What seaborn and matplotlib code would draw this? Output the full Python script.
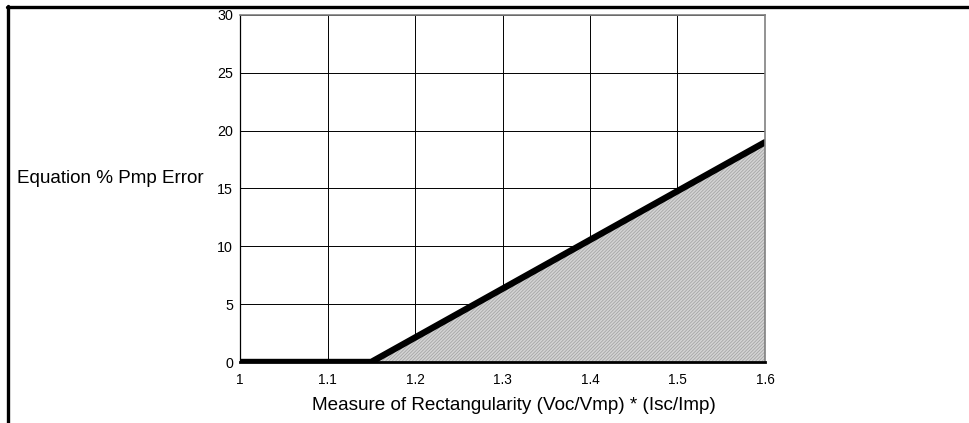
import matplotlib
matplotlib.use("Agg")
import matplotlib.pyplot as plt
from matplotlib.lines import Line2D
import numpy as np
import pandas as pd
import seaborn as sns

# Error curve: zero up to the kink, then rising linearly
rectangularity = [1.0, 1.15, 1.6]
pmp_error = [0.0, 0.0, 19.0]

x_ticks = [1.0, 1.1, 1.2, 1.3, 1.4, 1.5, 1.6]
x_tick_labels = ["1", "1.1", "1.2", "1.3", "1.4", "1.5", "1.6"]
y_ticks = [0, 5, 10, 15, 20, 25, 30]

sns.set_theme(style="white")
plt.rcParams["font.family"] = ["Liberation Sans", "DejaVu Sans"]
plt.rcParams["hatch.linewidth"] = 0.6

fig = plt.figure(figsize=(9.69, 4.23), dpi=100)
ax = fig.add_axes([240 / 969, 1 - 362 / 423, 525 / 969, 347 / 423])

df = pd.DataFrame({"x": rectangularity, "y": pmp_error})

# Shaded region beneath the curve
ax.fill_between(df["x"], 0, df["y"], facecolor="#d4d4d4", edgecolor="#a6a6a6",
                hatch="//////////", linewidth=0, zorder=2)

sns.lineplot(data=df, x="x", y="y", ax=ax, color="black", linewidth=4.6,
             zorder=4, clip_on=True)

ax.set_xlim(1.0, 1.6)
ax.set_ylim(0, 30)
ax.set_xticks(x_ticks)
ax.set_xticklabels(x_tick_labels)
ax.set_yticks(y_ticks)
ax.tick_params(axis="both", length=0, colors="black")
ax.tick_params(axis="x", pad=8, labelsize=9.8)
ax.tick_params(axis="y", pad=5, labelsize=10.3)

ax.grid(True, color="black", linewidth=0.7, zorder=1)
ax.set_axisbelow(True)

for side in ["top", "right"]:
    ax.spines[side].set_color("#808080")
    ax.spines[side].set_linewidth(1.2)
ax.spines["left"].set_color("black")
ax.spines["left"].set_linewidth(0.9)
ax.spines["bottom"].set_color("black")
ax.spines["bottom"].set_linewidth(2.0)
for s in ax.spines.values():
    s.set_zorder(5)

ax.set_xlabel("Measure of Rectangularity (Voc/Vmp) * (Isc/Imp)", fontsize=13.6,
              color="black", va="center")
ax.xaxis.set_label_coords(0.522, -0.124)
ax.set_ylabel("Equation % Pmp Error", fontsize=13.6, rotation=0, ha="left",
              va="center", color="black")
ax.yaxis.set_label_coords(-0.425, 0.53)

# Outer frame lines along the top and left edges
fig.add_artist(Line2D([7 / 969, 1.0], [1 - 7.5 / 423, 1 - 7.5 / 423],
                      color="black", linewidth=2.4, transform=fig.transFigure))
fig.add_artist(Line2D([7.5 / 969, 7.5 / 969], [0, 1 - 6 / 423],
                      color="black", linewidth=2.4, transform=fig.transFigure))

fig.savefig("out.png", dpi=100, facecolor="white")
